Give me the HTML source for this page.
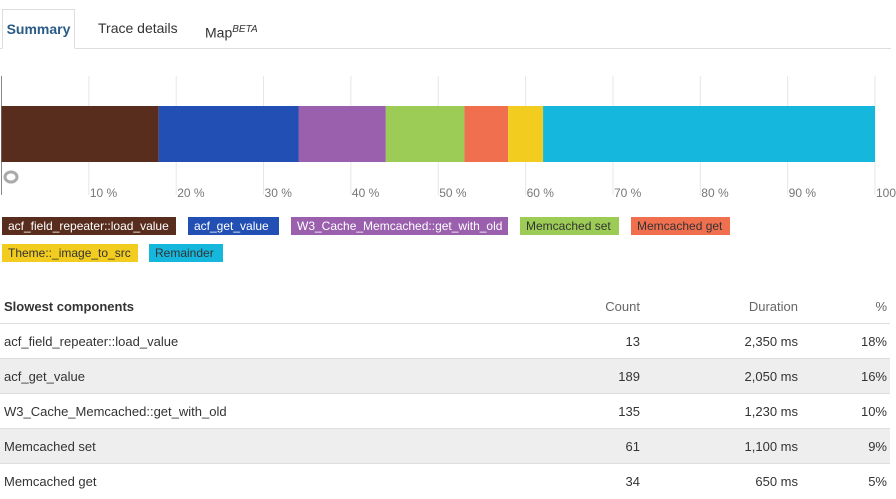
<!DOCTYPE html>
<html><head><meta charset="utf-8"><style>
body{margin:0;width:896px;height:494px;overflow:hidden;background:#fff;font-family:"Liberation Sans",sans-serif;color:#333;position:relative}
.tab{position:absolute;top:9px;height:39px;font-size:14px;line-height:38px;color:#333}
#tabs-line{position:absolute;left:0;top:48px;width:891px;height:1px;background:#ddd}
.leg{position:absolute;height:18px;line-height:18px;font-size:12px;padding:0 6px;box-sizing:border-box;white-space:nowrap;overflow:hidden}
.th,.td{position:absolute;font-size:13px;height:35px;line-height:35px}
.row{position:absolute;left:0;width:890px;height:35px;border-top:1px solid #ddd;box-sizing:border-box}
</style></head><body>
<div class="tab" style="left:2px;width:73px;border:1px solid #ddd;border-bottom:1px solid #fff;background:#fff;z-index:2;font-weight:bold;color:#2a5a86;text-align:center;box-sizing:border-box;height:40px">Summary</div>
<div class="tab" style="left:98px">Trace details</div>
<div class="tab" style="left:205px;top:11px">Map<sup style="font-size:10px;font-style:italic">BETA</sup></div>
<div id="tabs-line"></div>
<svg id="chart" width="896" height="210" style="position:absolute;left:0;top:0"></svg>
<div id="legend"></div>
<div>
<div class="th" style="left:4px;top:289px;font-weight:bold">Slowest components</div>
<div class="th" style="right:256px;top:289px;color:#666">Count</div>
<div class="th" style="right:98px;top:289px;color:#666">Duration</div>
<div class="th" style="right:9px;top:289px;color:#666">%</div>
<div id="rows"></div>
</div>
<script>
const categories=["acf_field_repeater::load_value","acf_get_value","W3_Cache_Memcached::get_with_old","Memcached set","Memcached get","Theme::_image_to_src","Remainder"];
const percents=[18,16,10,9,5,4,38];
const colors=["#582d1d","#214fb3","#9a60ad","#9ccc55","#f06f4f","#f2cc1f","#16b7dd"];
const textColors=["#fff","#fff","#fff","#333","#333","#333","#333"];
const ticks=[10,20,30,40,50,60,70,80,90,100];
const tableNames=["acf_field_repeater::load_value","acf_get_value","W3_Cache_Memcached::get_with_old","Memcached set","Memcached get"];
const counts=[13,189,135,61,34];
const durations=["2,350 ms","2,050 ms","1,230 ms","1,100 ms","650 ms"];
const tablePcts=[18,16,10,9,5];

const NS="http://www.w3.org/2000/svg";
const svg=document.getElementById('chart');
const x0=1.5,x1=875;
const xs=v=>x0+(x1-x0)*v/100;
function mk(t,a){const e=document.createElementNS(NS,t);for(const k in a)e.setAttribute(k,a[k]);svg.appendChild(e);return e;}
const axis=mk('line',{x1:x0,x2:x0,y1:76,y2:195,stroke:'#888','stroke-width':1});


ticks.forEach(t=>{
  const l=mk('line',{x1:xs(t),x2:xs(t),y1:76,y2:195,stroke:'#e6e6e6','stroke-width':1});
  
  
  const tx=mk('text',{x:xs(t)+1,y:197,'font-size':12,fill:'#777','font-family':'Liberation Sans, sans-serif'});
  tx.textContent=t+' %';
  
  
});
let acc=0;
percents.forEach((p,i)=>{
  const r=mk('rect',{x:xs(acc),y:106,width:xs(acc+p)-xs(acc),height:56,fill:colors[i]});
  
  
  acc+=p;
});
const ring=mk('ellipse',{cx:11,cy:177,rx:6,ry:5,fill:'none',stroke:'#aaa','stroke-width':3});



const legX=[2,188,291,520,631,2,149], legY=[217,217,217,217,217,244,244], legW=[174,91,217,99,99,136,74];
const leg=document.getElementById('legend');
categories.forEach((c,i)=>{
  const d=document.createElement('div');
  d.className='leg';
  d.style.cssText=`left:${legX[i]}px;top:${legY[i]}px;width:${legW[i]}px;background:${colors[i]};color:${textColors[i]}`;
  d.textContent=c;
  
  
  leg.appendChild(d);
});
const rows=document.getElementById('rows');
tableNames.forEach((n,i)=>{
  const top=323+i*35;
  const r=document.createElement('div');
  r.className='row';
  r.style.top=top+'px';
  r.style.background=i%2?'#eee':'#fff';
  r.innerHTML=`<div class="td" style="left:4px;top:0">${n}</div><div class="td" style="right:250px;top:0">${counts[i]}</div><div class="td" style="right:92px;top:0">${durations[i]}</div><div class="td" style="right:3px;top:0">${tablePcts[i]}%</div>`;
  
  
  rows.appendChild(r);
});
</script>
</body></html>
